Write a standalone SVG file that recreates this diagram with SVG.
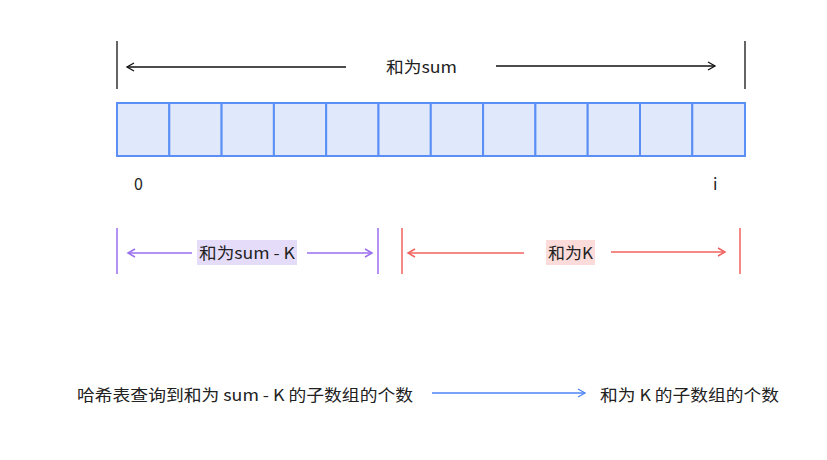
<svg xmlns="http://www.w3.org/2000/svg" width="827" height="460" viewBox="0 0 827 460">
<defs>
<style>
text{font-family:"Noto Sans CJK SC","Noto Sans",sans-serif;font-size:16px;fill:#222}
.cell{fill:#e0e9fc;stroke:#5b8ff5;stroke-width:2}
.k{stroke:#111;stroke-width:1.3;fill:none}
.p{stroke:#9a6ef0;stroke-width:1.5;fill:none}
.r{stroke:#f0625e;stroke-width:1.5;fill:none}
.b{stroke:#4d84f6;stroke-width:1.3;fill:none}
</style>
<marker id="ak" markerWidth="10" markerHeight="10" refX="8" refY="5" orient="auto" markerUnits="userSpaceOnUse"><path d="M1,1 L8,5 L1,9" fill="none" stroke="#111" stroke-width="1.3"/></marker>
<marker id="ap" markerWidth="10" markerHeight="10" refX="8" refY="5" orient="auto" markerUnits="userSpaceOnUse"><path d="M1,1 L8,5 L1,9" fill="none" stroke="#9a6ef0" stroke-width="1.5"/></marker>
<marker id="ar" markerWidth="10" markerHeight="10" refX="8" refY="5" orient="auto" markerUnits="userSpaceOnUse"><path d="M1,1 L8,5 L1,9" fill="none" stroke="#f0625e" stroke-width="1.5"/></marker>
<marker id="ab" markerWidth="10" markerHeight="10" refX="8" refY="5" orient="auto" markerUnits="userSpaceOnUse"><path d="M1,1 L8,5 L1,9" fill="none" stroke="#4d84f6" stroke-width="1.3"/></marker>
</defs>
<rect width="827" height="460" fill="#fff"/>
<g id="array">
<rect class="cell" x="117" y="103" width="52.3" height="53"/>
<rect class="cell" x="169.3" y="103" width="52.3" height="53"/>
<rect class="cell" x="221.6" y="103" width="52.3" height="53"/>
<rect class="cell" x="273.9" y="103" width="52.3" height="53"/>
<rect class="cell" x="326.2" y="103" width="52.3" height="53"/>
<rect class="cell" x="378.5" y="103" width="52.3" height="53"/>
<rect class="cell" x="430.8" y="103" width="52.3" height="53"/>
<rect class="cell" x="483.1" y="103" width="52.3" height="53"/>
<rect class="cell" x="535.4" y="103" width="52.3" height="53"/>
<rect class="cell" x="587.7" y="103" width="52.3" height="53"/>
<rect class="cell" x="640" y="103" width="52.3" height="53"/>
<rect class="cell" x="692.3" y="103" width="52.7" height="53"/>
</g>
<g id="index-labels">
<text x="134" y="190">0</text>
<text x="713" y="190">i</text>
</g>
<g id="label-sum"><text x="386" y="73" textLength="71" lengthAdjust="spacingAndGlyphs">和为sum</text></g>
<g id="label-sumk"><rect x="197" y="240" width="100" height="25" fill="#e5dcfa"/><text x="199" y="259" textLength="96" lengthAdjust="spacingAndGlyphs">和为sum - K</text></g>
<g id="label-k"><rect x="546" y="240" width="49" height="25" fill="#fbdcdb"/><text x="548" y="259" textLength="45" lengthAdjust="spacingAndGlyphs">和为K</text></g>
<g id="bottom-left"><text x="77" y="401" textLength="336" lengthAdjust="spacingAndGlyphs">哈希表查询到和为 sum - K 的子数组的个数</text></g>
<g id="bottom-right"><text x="600" y="401" textLength="179" lengthAdjust="spacingAndGlyphs">和为 K 的子数组的个数</text></g>
<g id="connectors">
<line class="k" x1="117" y1="41" x2="117" y2="89"/>
<line class="k" x1="745" y1="41" x2="745" y2="89"/>
<line class="k" x1="346" y1="67" x2="127" y2="67" marker-end="url(#ak)"/>
<line class="k" x1="496" y1="66" x2="715" y2="66" marker-end="url(#ak)"/>
<line class="p" x1="117" y1="228" x2="117" y2="274"/>
<line class="p" x1="378" y1="228" x2="378" y2="274"/>
<line class="p" x1="192" y1="253" x2="128" y2="253" marker-end="url(#ap)"/>
<line class="p" x1="307" y1="253" x2="372" y2="253" marker-end="url(#ap)"/>
<line class="r" x1="402" y1="228" x2="402" y2="274"/>
<line class="r" x1="740" y1="228" x2="740" y2="274"/>
<line class="r" x1="524" y1="253" x2="408" y2="253" marker-end="url(#ar)"/>
<line class="r" x1="611" y1="252" x2="725" y2="252" marker-end="url(#ar)"/>
<line class="b" x1="432" y1="393" x2="585" y2="393" marker-end="url(#ab)"/>
</g>
</svg>
